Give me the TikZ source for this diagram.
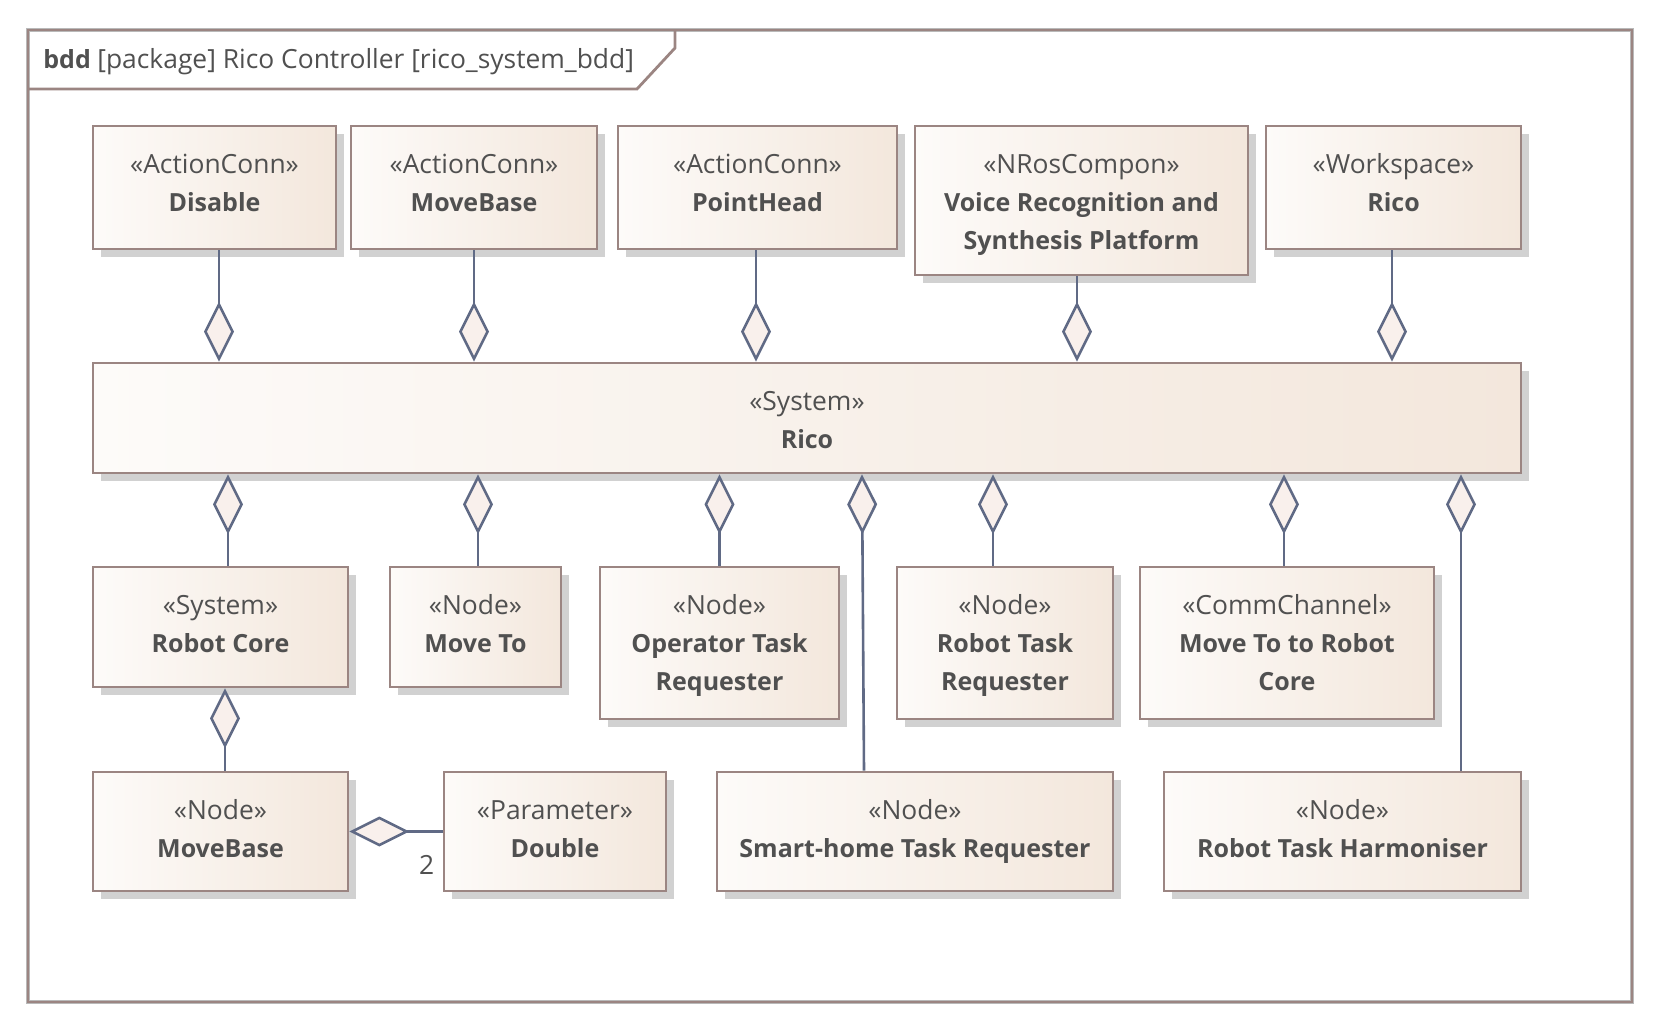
\documentclass[tikz,border=0pt]{standalone}
\usepackage{fontspec}
\setmainfont{Open Sans}
\usetikzlibrary{arrows.meta,shadows}

\definecolor{boxline}{RGB}{155,133,130}
\definecolor{fillL}{RGB}{253,251,249}
\definecolor{fillR}{RGB}{243,231,220}
\definecolor{conn}{RGB}{96,106,133}
\definecolor{dfill}{RGB}{249,240,236}
\definecolor{txt}{RGB}{80,80,80}

\newcommand\bddfont{\fontsize{12.5pt}{19pt}\selectfont}
\newcommand\stfont{\fontsize{13.2pt}{19pt}\selectfont}

\tikzset{
  block/.style={draw=boxline, line width=1.4pt, left color=fillL, right color=fillR,
    drop shadow={shadow xshift=4pt, shadow yshift=-4pt, fill=black!18, opacity=1},
    inner sep=0pt},
  lbl/.style={anchor=north, yshift=-10.9pt, align=center, text=txt, font=\bddfont, inner sep=0pt},
  agg/.style={draw=conn, line width=1.3pt, -{Diamond[length=30pt, width=15pt, fill=dfill]}},
  mult/.style={text=txt, font=\bddfont, inner sep=0pt},
}

\begin{document}
\begin{tikzpicture}[x=0.5pt, y=-0.5pt]
\useasboundingbox (0,0) rectangle (1662,1032);

% frame
\draw [gray!55, line width=2.2pt] (28,30) rectangle (1632,1002);
\draw [boxline, line width=1.4pt] (28,30) rectangle (1632,1002);
\draw [boxline, line width=1.4pt] (28,89) -- (637,89) -- (675,48) -- (675,30);
\node [mult, anchor=west] (title) at (43,62) {\textbf{bdd} {\stfont[package] Rico Controller [rico\_system\_bdd]}};

% top row
\node [block, minimum width=121.5pt, minimum height=61.5pt, label={[lbl]north:{\strut{\stfont«ActionConn»}\\\textbf{Disable}}}] (acdisable) at (214.5,187.5) {};
\node [block, minimum width=123pt, minimum height=61.5pt, label={[lbl]north:{\strut{\stfont«ActionConn»}\\\textbf{MoveBase}}}] (acmovebase) at (474,187.5) {};
\node [block, minimum width=139.5pt, minimum height=61.5pt, label={[lbl]north:{\strut{\stfont«ActionConn»}\\\textbf{PointHead}}}] (acpointhead) at (757.5,187.5) {};
\node [block, minimum width=166.5pt, minimum height=74.5pt, label={[lbl]north:{\strut{\stfont«NRosCompon»}\\\textbf{Voice Recognition and}\\\textbf{Synthesis Platform}}}] (voice) at (1081.5,200.5) {};
\node [block, minimum width=127.5pt, minimum height=61.5pt, label={[lbl]north:{\strut{\stfont«Workspace»}\\\textbf{Rico}}}] (workspace) at (1393.5,187.5) {};

% system
\node [block, minimum width=714pt, minimum height=55pt, label={[lbl]north:{\strut{\stfont«System»}\\\textbf{Rico}}}] (rico) at (807,418) {};

% second row
\node [block, minimum width=127.5pt, minimum height=60pt, label={[lbl]north:{\strut{\stfont«System»}\\\textbf{Robot Core}}}] (robotcore) at (220.5,627) {};
\node [block, minimum width=85.5pt, minimum height=60pt, label={[lbl]north:{\strut{\stfont«Node»}\\\textbf{Move To}}}] (moveto) at (475.5,627) {};
\node [block, minimum width=119.5pt, minimum height=76pt, label={[lbl]north:{\strut{\stfont«Node»}\\\textbf{Operator Task}\\\textbf{Requester}}}] (operator) at (719.5,643) {};
\node [block, minimum width=108pt, minimum height=76pt, label={[lbl]north:{\strut{\stfont«Node»}\\\textbf{Robot Task}\\\textbf{Requester}}}] (robottask) at (1005,643) {};
\node [block, minimum width=147pt, minimum height=76pt, label={[lbl]north:{\strut{\stfont«CommChannel»}\\\textbf{Move To to Robot}\\\textbf{Core}}}] (commch) at (1287,643) {};

% third row
\node [block, minimum width=127.5pt, minimum height=59.5pt, label={[lbl]north:{\strut{\stfont«Node»}\\\textbf{MoveBase}}}] (movebase) at (220.5,831.5) {};
\node [block, minimum width=111pt, minimum height=59.5pt, label={[lbl]north:{\strut{\stfont«Parameter»}\\\textbf{Double}}}] (double) at (555,831.5) {};
\node [block, minimum width=198pt, minimum height=59.5pt, label={[lbl]north:{\strut{\stfont«Node»}\\\textbf{Smart-home Task Requester}}}] (smarthome) at (915,831.5) {};
\node [block, minimum width=178.5pt, minimum height=59.5pt, label={[lbl]north:{\strut{\stfont«Node»}\\\textbf{Robot Task Harmoniser}}}] (harmoniser) at (1342.5,831.5) {};

% parts of Rico, above
\draw [agg] ([xshift=2.25pt]acdisable.south) coordinate (u1) -- (u1 |- rico.north);
\draw [agg] (acmovebase.south) -- (acmovebase.south |- rico.north);
\draw [agg] ([xshift=-0.75pt]acpointhead.south) coordinate (u3) -- (u3 |- rico.north);
\draw [agg] ([xshift=-2.25pt]voice.south) coordinate (u4) -- (u4 |- rico.north);
\draw [agg] ([xshift=-0.75pt]workspace.south) coordinate (u5) -- (u5 |- rico.north);

% parts of Rico, below
\draw [agg] ([xshift=3.75pt]robotcore.north) coordinate (d1) -- (d1 |- rico.south);
\draw [agg] ([xshift=1.25pt]moveto.north) coordinate (d2) -- (d2 |- rico.south);
\draw [agg] (operator.north) -- (operator.north |- rico.south);
\draw [agg] ([xshift=-25.5pt]smarthome.north) -- ([xshift=-26.5pt]smarthome.north |- rico.south);
\draw [agg] ([xshift=-6pt]robottask.north) coordinate (d5) -- (d5 |- rico.south);
\draw [agg] ([xshift=-1.5pt]commch.north) coordinate (d6) -- (d6 |- rico.south);
\draw [agg] ([xshift=59.25pt]harmoniser.north) coordinate (d7) -- (d7 |- rico.south);

% robot core parts
\draw [agg] ([xshift=2.25pt]movebase.north) coordinate (m1) -- (m1 |- robotcore.south);
\draw [agg] (double.west) -- node [mult, font=\stfont, at start, anchor=north east, xshift=-3.5pt, yshift=-11.5pt] {2} (movebase.east);
\end{tikzpicture}
\end{document}
